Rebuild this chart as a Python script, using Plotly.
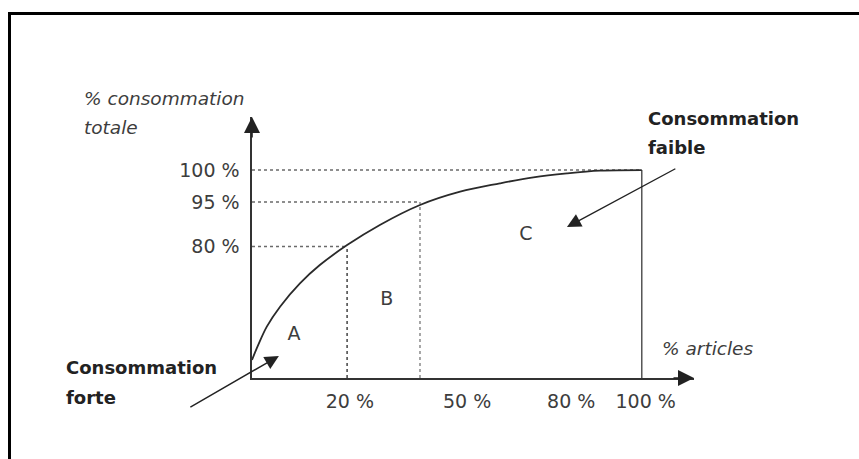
import plotly.graph_objects as go

# ---- data (schematic axis units: 0 = origin, 100 = the "100 %" marks) ----
x_tick_pos = [25.1, 55.2, 81.9, 101.0]
x_tick_text = ["20 %", "50 %", "80 %", "100 %"]
y_tick_pos = [63.2, 84.6, 100.0]
y_tick_text = ["80 %", "95 %", "100 %"]

# class boundaries: where the curve reaches 80 %, 95 % and 100 %
bound_x = [24.4, 43.1, 100.0]
bound_y = [63.2, 84.6, 100.0]

# cumulative consumption curve (Pareto / ABC)
curve_x = [0, 1.6, 3.8, 7.2, 12.3, 17.4, 24.4, 32.8, 43.1, 53.4, 63.6, 72.2, 80.8, 89.3, 100.0]
curve_y = [8.7, 15.9, 24.7, 34.3, 45.5, 54.3, 63.9, 73.6, 83.2, 89.6, 93.6, 96.5, 98.4, 99.7, 100.0]

class_labels = ["A", "B", "C"]
class_x = [10.8, 34.6, 70.3]
class_y = [20.7, 37.5, 68.75]

# annotation arrows (tail -> tip) in axis units
faible_tail = (109.0, 101.0)
faible_tip = (80.8, 72.6)
forte_tail = (-16.2, -14.4)
forte_tip = (6.9, 10.6)

X_MAX = 113.4
Y_MAX = 125.5

# ---- layout geometry (pixels) ----
W, H = 859, 459
ML, MR, MT, MB = 252, 165, 117, 81
PW = W - ML - MR
PH = H - MT - MB


def px(xp):
    return (xp - ML) / PW


def py(yp):
    return (H - MB - yp) / PH


FONT = "DejaVu Sans"
TXT = "#3d3d3d"

fig = go.Figure()

# horizontal dotted guides
for bx, by in zip(bound_x, bound_y):
    fig.add_trace(go.Scatter(x=[0, bx], y=[by, by], mode="lines",
                             line=dict(color="#6a6a6a", width=1.5, dash="dot"),
                             hoverinfo="skip", showlegend=False))
# vertical dotted guides (A/B and B/C boundaries)
for bx, by, col in zip(bound_x[:2], bound_y[:2], ["#444444", "#8a8a8a"]):
    fig.add_trace(go.Scatter(x=[bx, bx], y=[0, by], mode="lines",
                             line=dict(color=col, width=1.5, dash="dot"),
                             hoverinfo="skip", showlegend=False))
# solid vertical at 100 %
fig.add_trace(go.Scatter(x=[bound_x[2], bound_x[2]], y=[0, bound_y[2]], mode="lines",
                         line=dict(color="#555555", width=1.5),
                         hoverinfo="skip", showlegend=False))

# curve
fig.add_trace(go.Scatter(x=curve_x, y=curve_y, mode="lines",
                         line=dict(color="#2a2a2a", width=1.8, shape="spline", smoothing=1.0),
                         hoverinfo="skip", showlegend=False))

# class labels
fig.add_trace(go.Scatter(x=class_x, y=class_y, mode="text", text=class_labels,
                         textfont=dict(family=FONT, size=19, color=TXT),
                         hoverinfo="skip", showlegend=False))

fig.update_xaxes(range=[0, X_MAX], showline=True, linecolor="#333333", linewidth=1.6,
                 showgrid=False, zeroline=False, ticks="",
                 tickvals=x_tick_pos, ticktext=x_tick_text, ticklabelstandoff=6,
                 tickfont=dict(family=FONT, size=19, color=TXT), fixedrange=True)
fig.update_yaxes(range=[0, Y_MAX], showline=True, linecolor="#333333", linewidth=1.6,
                 showgrid=False, zeroline=False, ticks="",
                 tickvals=y_tick_pos, ticktext=y_tick_text, ticklabelstandoff=7,
                 tickfont=dict(family=FONT, size=19, color=TXT), fixedrange=True)

ann = []
# axis arrowheads
ann.append(dict(x=X_MAX, y=0, xref="x", yref="y", ax=-22, ay=0, text="",
                showarrow=True, arrowhead=2, arrowsize=2.0, arrowwidth=1.6, arrowcolor="#222"))
ann.append(dict(x=0, y=Y_MAX, xref="x", yref="y", ax=0, ay=22, text="",
                showarrow=True, arrowhead=2, arrowsize=2.0, arrowwidth=1.6, arrowcolor="#222"))
# pointer arrows
ann.append(dict(x=faible_tip[0], y=faible_tip[1], ax=faible_tail[0], ay=faible_tail[1],
                xref="x", yref="y", axref="x", ayref="y", text="",
                showarrow=True, arrowhead=2, arrowsize=2.0, arrowwidth=1.4, arrowcolor="#222"))
ann.append(dict(x=forte_tip[0], y=forte_tip[1], ax=forte_tail[0], ay=forte_tail[1],
                xref="x", yref="y", axref="x", ayref="y", text="",
                showarrow=True, arrowhead=2, arrowsize=2.0, arrowwidth=1.4, arrowcolor="#222"))


def label(text, xp, yp, size, bold=False, italic=False):
    t = text
    if italic:
        t = "<i>" + t + "</i>"
    if bold:
        t = "<b>" + t + "</b>"
    ann.append(dict(x=px(xp), y=py(yp), xref="paper", yref="paper", text=t,
                    showarrow=False, xanchor="left", yanchor="middle",
                    font=dict(family=FONT, size=size, color="#222" if bold else TXT)))


label("% consommation", 82, 98, 18.5, italic=True)
label("totale", 82, 127, 18.5, italic=True)
label("% articles", 660, 348, 18.5, italic=True)
label("Consommation", 646, 118, 18, bold=True)
label("faible", 646, 147, 18, bold=True)
label("Consommation", 64, 367, 18, bold=True)
label("forte", 64, 397, 18, bold=True)

fig.update_layout(
    width=W, height=H,
    margin=dict(l=ML, r=MR, t=MT, b=MB),
    paper_bgcolor="white", plot_bgcolor="white",
    annotations=ann,
    shapes=[
        dict(type="line", xref="paper", yref="paper", x0=px(9.5), x1=px(9.5), y0=py(470), y1=py(13.5),
             line=dict(color="black", width=3)),
        dict(type="line", xref="paper", yref="paper", x0=px(8), x1=px(870), y0=py(13.5), y1=py(13.5),
             line=dict(color="black", width=3)),
    ],
)

fig.write_html("out.html",
               config={"displayModeBar": False, "staticPlot": True},
               post_script="document.body.style.margin='0px';document.body.style.overflow='hidden';")
